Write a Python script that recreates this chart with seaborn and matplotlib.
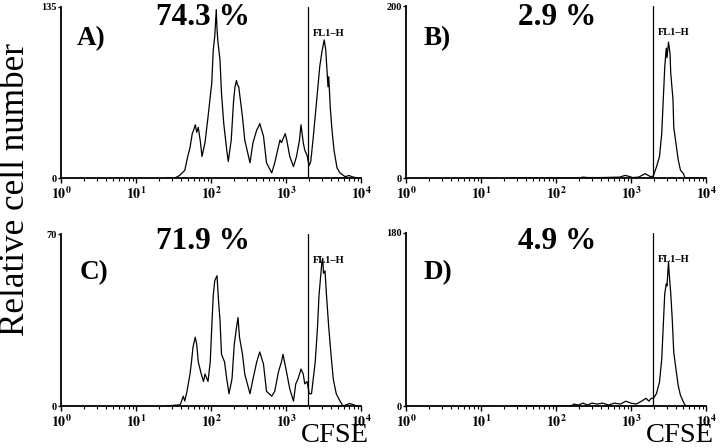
import numpy as np
import matplotlib
matplotlib.use("Agg")
import matplotlib.pyplot as plt
import matplotlib.ticker as mticker
import seaborn as sns

# ---------------- data (log10 CFSE channel, cell counts) ----------------
a_log = [1.40, 1.52, 1.58, 1.65, 1.69, 1.72, 1.75, 1.77, 1.79, 1.81, 1.83, 1.86, 1.88,
         1.92, 1.96, 2.01, 2.03, 2.05, 2.06, 2.07, 2.08, 2.09, 2.12, 2.14, 2.17, 2.21,
         2.23, 2.27, 2.30, 2.32, 2.34, 2.35, 2.37, 2.42, 2.45, 2.52, 2.56, 2.61, 2.63,
         2.65, 2.70, 2.74, 2.81, 2.85, 2.90, 2.92, 2.94, 2.99, 3.01, 3.05, 3.10, 3.14,
         3.18, 3.20, 3.23, 3.25, 3.28, 3.30, 3.31, 3.33, 3.36, 3.41, 3.45, 3.48, 3.49,
         3.51, 3.53, 3.56, 3.57, 3.59, 3.61, 3.64, 3.68, 3.72, 3.79, 3.84, 3.88, 3.95]
a_cnt = [0, 0, 2, 6, 17, 24, 35, 38, 42, 36, 40, 28, 17,
         28, 48, 75, 101, 112, 122, 133, 118, 109, 93, 67, 43, 22,
         13, 30, 60, 72, 77, 74, 72, 48, 30, 12, 28, 38, 40,
         43, 33, 12, 4, 12, 25, 30, 28, 35, 30, 17, 9, 17,
         30, 42, 28, 22, 18, 12, 10, 13, 30, 62, 88, 100, 103,
         109, 101, 72, 80, 56, 40, 22, 8, 4, 1, 2, 1, 0]

b_log = [1.40, 2.30, 2.36, 2.42, 2.60, 2.85, 2.92, 2.97, 3.02, 3.10, 3.19, 3.25, 3.28,
         3.30, 3.34, 3.38, 3.41, 3.43, 3.45, 3.47, 3.48, 3.50, 3.52, 3.53, 3.56, 3.57,
         3.60, 3.63, 3.66, 3.70, 3.72, 3.95]
b_cnt = [0, 0, 1, 0.5, 0.5, 1, 3, 2, 0.5, 1, 5, 2, 1.5,
         3, 13, 25, 52, 91, 129, 151, 140, 158, 145, 122, 91, 59,
         40, 21, 9, 5, 0, 0]

c_log = [1.40, 1.59, 1.63, 1.65, 1.68, 1.72, 1.74, 1.76, 1.79, 1.81, 1.83, 1.87, 1.90,
         1.92, 1.96, 1.99, 2.01, 2.03, 2.05, 2.08, 2.10, 2.12, 2.14, 2.18, 2.21, 2.24,
         2.28, 2.31, 2.34, 2.36, 2.38, 2.42, 2.45, 2.52, 2.56, 2.61, 2.65, 2.70, 2.74,
         2.81, 2.85, 2.90, 2.94, 2.96, 3.00, 3.05, 3.10, 3.13, 3.16, 3.20, 3.23, 3.25,
         3.28, 3.31, 3.34, 3.39, 3.42, 3.44, 3.48, 3.49, 3.50, 3.52, 3.54, 3.57, 3.60,
         3.63, 3.67, 3.72, 3.76, 3.85, 3.95]
c_cnt = [0, 0.5, 4, 2, 6, 13, 18, 24, 28, 25, 18, 13, 10,
         13, 10, 18, 32, 45, 51, 53, 43, 35, 21, 18, 11, 5,
         11, 25, 32, 36, 28, 21, 13, 5, 11, 18, 22, 17, 6,
         4, 6, 14, 18, 21, 15, 7, 2, 9, 11, 15, 13, 9,
         10, 5, 5, 18, 32, 45, 59, 60, 54, 55, 45, 32, 21,
         11, 5, 2, 0, 1, 0]

d_log = [1.40, 2.20, 2.24, 2.30, 2.36, 2.42, 2.48, 2.55, 2.62, 2.70, 2.78, 2.86, 2.93,
         3.00, 3.07, 3.14, 3.20, 3.24, 3.27, 3.30, 3.34, 3.38, 3.41, 3.43, 3.45, 3.47,
         3.48, 3.50, 3.51, 3.53, 3.55, 3.57, 3.60, 3.63, 3.66, 3.70, 3.72, 3.75, 3.95]
d_cnt = [0, 0, 2, 1, 3, 1, 3, 2, 3, 1, 3, 2, 5,
         3, 2, 5, 8, 5, 8, 8, 13, 25, 49, 83, 117, 127,
         125, 150, 137, 117, 90, 56, 38, 21, 11, 4, 1, 0, 0]

panel_labels = ["A)", "B)", "C)", "D)"]
percent_labels = ["74.3 %", "2.9 %", "71.9 %", "4.9 %"]
y_max = [135, 200, 70, 180]
gate = [1950, 1950, 1950, 1950]
gate_label = "FL1\u2013H"
x_label = "CFSE"
y_label = "Relative cell number"
decades = [0, 1, 2, 3, 4]

# ---------------- style ----------------
sns.set_style("ticks")
plt.rcParams["font.family"] = ["Liberation Serif", "DejaVu Serif"]
plt.rcParams["mathtext.fontset"] = "stix"
for k in ["text.color", "axes.labelcolor", "xtick.color", "ytick.color", "axes.edgecolor"]:
    plt.rcParams[k] = "black"

W, H = 720, 448
fig = plt.figure(figsize=(W / 100, H / 100), dpi=100)

# axes boxes in pixels: left, top, right, bottom
boxes = [(61, 7, 361, 178), (406, 6, 706, 178), (61, 234, 361, 406), (406, 233, 706, 406)]
text_pos = [  # (panel letter x, y), (percent center x, baseline y) in axes fraction
    ((0.053, 0.778), (0.473, 0.895)),
    ((0.057, 0.773), (0.503, 0.890)),
    ((0.063, 0.738), (0.473, 0.913)),
    ((0.057, 0.734), (0.503, 0.908)),
]
series = [(a_log, a_cnt), (b_log, b_cnt), (c_log, c_cnt), (d_log, d_cnt)]

for i, (l, t, r, b) in enumerate(boxes):
    ax = fig.add_axes([l / W, 1 - b / H, (r - l) / W, (b - t) / H])
    logs, cnts = series[i]
    xs = np.power(10.0, np.array(logs))
    sns.lineplot(x=xs, y=cnts, ax=ax, color="black", lw=0.9, sort=False,
                 estimator=None)
    ax.axvline(gate[i], color="black", lw=0.9)
    ax.set_xscale("log")
    ax.set_xlim(1, 1e4)
    ax.set_ylim(0, y_max[i])
    for s in ["top", "right"]:
        ax.spines[s].set_visible(False)
    for s in ["left", "bottom"]:
        ax.spines[s].set_linewidth(1.3)
        ax.spines[s].set_color("black")
    ax.xaxis.set_major_locator(mticker.FixedLocator([10.0 ** d for d in decades]))
    ax.xaxis.set_major_formatter(mticker.FixedFormatter(
        [r"$\mathbf{10^{%d}}$" % d for d in decades]))
    ax.xaxis.set_minor_locator(mticker.LogLocator(base=10, subs=np.arange(2, 10)))
    ax.xaxis.set_minor_formatter(mticker.NullFormatter())
    ax.set_yticks([0, y_max[i]])
    ax.set_yticklabels(["0", str(y_max[i])], fontsize=7.5, fontweight="bold")
    ax.tick_params(axis="x", which="major", length=3.5, width=1.0, pad=1.5,
                   labelsize=10, direction="out", colors="black")
    ax.tick_params(axis="x", which="minor", length=2.5, width=0.8, direction="out")
    ax.tick_params(axis="y", which="major", length=2.5, width=1.0, pad=0.5,
                   direction="out", colors="black")
    ax.set_xlabel("")
    ax.set_ylabel("")
    ax.patch.set_alpha(0)

    (px, py), (qx, qy) = text_pos[i]
    ax.text(px, py, panel_labels[i], transform=ax.transAxes, fontsize=19.5,
            fontweight="bold", ha="left", va="baseline", color="black")
    ax.text(qx, qy, percent_labels[i], transform=ax.transAxes, fontsize=22.5,
            fontweight="bold", ha="center", va="baseline", color="black")
    gx = (np.log10(gate[i]) - 0) / 4.0
    ax.text(gx + 0.017, 0.845, gate_label, transform=ax.transAxes, fontsize=7.5,
            fontweight="bold", ha="left", va="center", color="black")

fig.text(16 / W, 1 - 189 / H, y_label, rotation=90, fontsize=25.3,
         ha="center", va="center", color="black")
fig.text(369 / W, 1 - 442 / H, x_label, fontsize=20.5, ha="right", va="baseline",
         color="black")
fig.text(714 / W, 1 - 442 / H, x_label, fontsize=20.5, ha="right", va="baseline",
         color="black")

fig.savefig("out.png", dpi=100)
